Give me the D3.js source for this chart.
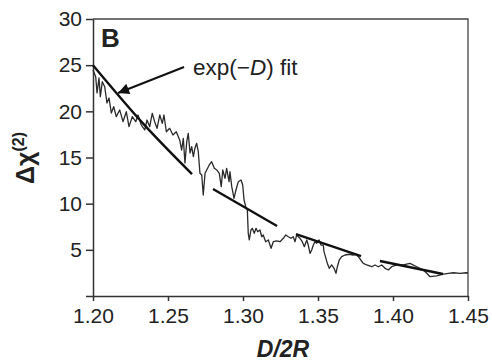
<!DOCTYPE html>
<html>
<head>
<meta charset="utf-8">
<script src="https://cdn.jsdelivr.net/npm/d3@7.9.0/dist/d3.min.js"></script>
<style>
  body { margin: 0; background: #fff; }
  svg { display: block; font-family: "Liberation Sans", Arial, sans-serif; }
  .axis text { font-size: 21px; fill: #222; }
  .axis path, .axis line { stroke: #333; stroke-width: 1.5; }
</style>
</head>
<body>
<svg width="492" height="361"></svg>
<script>
// measured trace (D/2R, delta chi2)
const traceX = [
  1.2000, 1.2018, 1.2027, 1.2040, 1.2049, 1.2062, 1.2078, 1.2093, 1.2107, 1.2122,
  1.2138, 1.2155, 1.2178, 1.2200, 1.2222, 1.2240, 1.2262, 1.2285, 1.2300, 1.2322,
  1.2345, 1.2360, 1.2378, 1.2395, 1.2411, 1.2427, 1.2445, 1.2462, 1.2473, 1.2489,
  1.2511, 1.2533, 1.2555, 1.2578, 1.2591, 1.2602, 1.2613, 1.2625, 1.2635, 1.2647,
  1.2658, 1.2669, 1.2680, 1.2691, 1.2702, 1.2713, 1.2725, 1.2735, 1.2747, 1.2758,
  1.2775, 1.2791, 1.2809, 1.2825, 1.2842, 1.2855, 1.2865, 1.2880, 1.2891, 1.2907,
  1.2913, 1.2925, 1.2940, 1.2953, 1.2969, 1.2987, 1.2998, 1.3007, 1.3018, 1.3029,
  1.3035, 1.3042, 1.3053, 1.3062, 1.3075, 1.3087, 1.3098, 1.3113, 1.3125, 1.3135,
  1.3151, 1.3169, 1.3187, 1.3202, 1.3225, 1.3247, 1.3269, 1.3285, 1.3302, 1.3320,
  1.3335, 1.3347, 1.3358, 1.3369, 1.3380, 1.3395, 1.3409, 1.3425, 1.3435, 1.3447,
  1.3458, 1.3469, 1.3480, 1.3491, 1.3507, 1.3520, 1.3535, 1.3540, 1.3553, 1.3562,
  1.3575, 1.3591, 1.3607, 1.3620, 1.3629, 1.3642, 1.3658, 1.3680, 1.3709, 1.3735,
  1.3753, 1.3769, 1.3785, 1.3802, 1.3825, 1.3858, 1.3880, 1.3902, 1.3925, 1.3947,
  1.3969, 1.3991, 1.4025, 1.4069, 1.4113, 1.4158, 1.4202, 1.4225, 1.4247, 1.4291,
  1.4335, 1.4369, 1.4402, 1.4447, 1.4487, 1.4500
];
const traceY = [
  24.48, 23.75, 21.99, 23.61, 21.59, 23.21, 22.67, 20.90, 21.44, 19.82,
  20.50, 19.42, 20.15, 18.88, 19.96, 18.34, 19.42, 18.88, 19.60, 18.52,
  17.98, 19.06, 18.34, 19.79, 18.88, 18.16, 19.60, 18.70, 19.60, 17.79,
  18.16, 17.44, 17.79, 16.90, 15.81, 17.08, 14.40, 16.71, 17.62, 15.49,
  16.17, 15.09, 16.03, 16.54, 15.63, 13.29, 13.10, 10.94, 13.29, 13.65,
  14.19, 14.55, 13.83, 13.65, 13.29, 11.84, 13.65, 12.75, 13.83, 12.38,
  13.46, 11.84, 10.58, 11.48, 12.38, 12.56, 12.02, 10.40, 9.67, 9.31,
  6.79, 6.07, 7.15, 7.33, 6.79, 7.33, 6.96, 7.15, 6.42, 6.61,
  5.88, 6.07, 5.17, 5.88, 5.96, 5.88, 6.25, 6.61, 6.42, 6.25,
  6.42, 5.88, 6.61, 6.42, 6.25, 5.88, 5.34, 6.07, 5.52, 4.62,
  4.98, 5.52, 5.88, 5.71, 6.07, 5.52, 5.52, 4.80, 4.08, 3.54,
  3.00, 3.36, 3.00, 2.46, 3.17, 3.90, 4.26, 4.44, 4.52, 4.44,
  4.52, 4.26, 3.90, 3.54, 3.36, 3.17, 3.36, 3.17, 3.36, 3.00,
  2.82, 3.17, 3.36, 3.36, 3.54, 3.17, 2.82, 2.46, 2.09, 2.17,
  2.38, 2.46, 2.52, 2.46, 2.52, 2.49
];

// local exp(-D) fit pieces
const fitX = [
  [1.2000, 1.2333, 1.2660],
  [1.2800, 1.3227],
  [1.3353, 1.3787],
  [1.3913, 1.4333]
];
const fitY = [
  [25.00, 18.70, 13.21],
  [11.59, 7.58],
  [6.71, 4.33],
  [3.79, 2.38]
];

const xTicks = [1.20, 1.25, 1.30, 1.35, 1.40, 1.45];
const yTicks = [0, 5, 10, 15, 20, 25, 30];

const svg = d3.select('svg');
const x = d3.scaleLinear().domain([1.2, 1.45]).range([93, 468]);
const y = d3.scaleLinear().domain([0, 30]).range([296, 19]);

// frame (top + right)
svg.append('path')
  .attr('d', `M${x(1.2)},${y(30)}H${x(1.45)}V${y(0)}`)
  .attr('fill', 'none')
  .attr('stroke', '#444')
  .attr('stroke-width', 1.3);

svg.append('g')
  .attr('class', 'axis')
  .attr('transform', `translate(0,${y(0)})`)
  .call(d3.axisBottom(x).tickValues(xTicks).tickFormat(d3.format('.2f'))
    .tickSize(5).tickSizeOuter(0).tickPadding(7));

svg.append('g')
  .attr('class', 'axis')
  .attr('transform', `translate(${x(1.2)},0)`)
  .call(d3.axisLeft(y).tickValues(yTicks).tickFormat((d) => d === 0 ? '' : d)
    .tickSize(7).tickSizeOuter(0).tickPadding(4));

// noisy trace
const trace = traceX.map((d, i) => [d, traceY[i]]);
svg.append('path')
  .datum(trace)
  .attr('fill', 'none')
  .attr('stroke', '#2a2a2a')
  .attr('stroke-width', 1.3)
  .attr('stroke-linejoin', 'round')
  .attr('d', d3.line().x((d) => x(d[0])).y((d) => y(d[1])));

// fit pieces
const fitLine = d3.line().x((d) => x(d[0])).y((d) => y(d[1])).curve(d3.curveNatural);
fitX.forEach((xs, k) => {
  svg.append('path')
    .datum(xs.map((v, i) => [v, fitY[k][i]]))
    .attr('fill', 'none')
    .attr('stroke', '#111')
    .attr('stroke-width', 2.4)
    .attr('d', fitLine);
});

// arrow + label
svg.append('defs').append('marker')
  .attr('id', 'head')
  .attr('viewBox', '0 0 10 10')
  .attr('refX', 10).attr('refY', 5)
  .attr('markerWidth', 16).attr('markerHeight', 11)
  .attr('markerUnits', 'userSpaceOnUse')
  .attr('orient', 'auto')
  .append('path')
  .attr('d', 'M0,0L10,5L0,10Z')
  .attr('fill', '#111');

svg.append('line')
  .attr('x1', x(1.2607)).attr('y1', y(24.80))
  .attr('x2', x(1.2167)).attr('y2', y(21.99))
  .attr('stroke', '#111')
  .attr('stroke-width', 2)
  .attr('marker-end', 'url(#head)');

const note = svg.append('text')
  .attr('x', x(1.2667)).attr('y', 75)
  .attr('font-size', 22.5)
  .attr('fill', '#222');
note.append('tspan').text('exp(\u2212');
note.append('tspan').attr('font-style', 'italic').text('D');
note.append('tspan').text(') fit');

svg.append('text')
  .attr('x', 101).attr('y', 47)
  .attr('font-size', 26)
  .attr('font-weight', 'bold')
  .attr('fill', '#222')
  .text('B');

// axis titles
const yl = svg.append('text')
  .attr('transform', 'translate(34,158) rotate(-90)')
  .attr('text-anchor', 'middle')
  .attr('font-size', 25)
  .attr('font-weight', 'bold')
  .attr('fill', '#222');
yl.append('tspan').text('\u0394\u03c7');
yl.append('tspan').attr('font-size', 16).attr('dy', -10).text('(2)');

const xl = svg.append('text')
  .attr('x', 283).attr('y', 357)
  .attr('text-anchor', 'middle')
  .attr('font-size', 23)
  .attr('font-weight', 'bold')
  .attr('font-style', 'italic')
  .attr('fill', '#222');
xl.text('D/2R');
</script>
</body>
</html>
